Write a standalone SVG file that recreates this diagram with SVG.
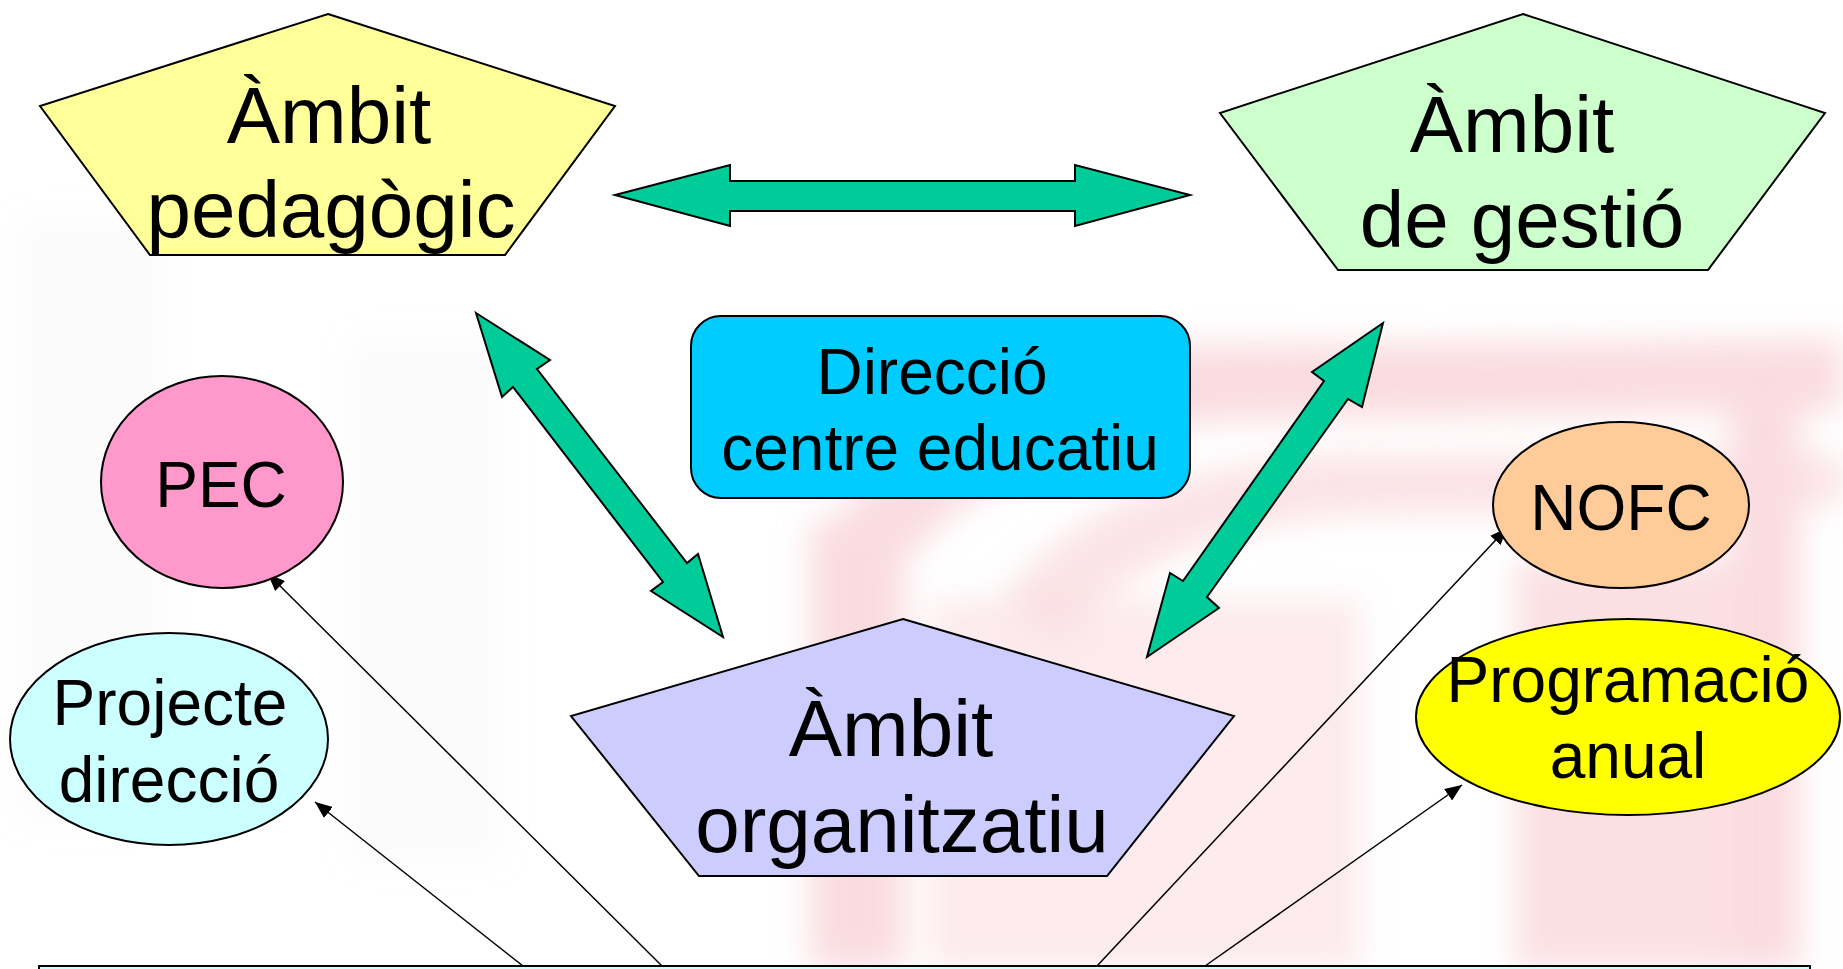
<svg xmlns="http://www.w3.org/2000/svg" width="1843" height="969" viewBox="0 0 1843 969">
<defs>
<style>
.t{font-family:"Liberation Sans",Arial,sans-serif;text-anchor:middle;fill:#000}
.big{font-size:80px}
.mid{font-size:64px}
.shape{stroke:#000;stroke-width:2}
.conn{stroke:#000;stroke-width:1.5;fill:none}
.wide{fill:#00CC99;stroke:#000;stroke-width:2;stroke-linejoin:miter}
.pk{fill:#F8CDD3}
.gr{fill:#E6E6E6}
</style>
<filter id="blur" x="-20%" y="-20%" width="140%" height="140%"><feGaussianBlur stdDeviation="16"/></filter>
<marker id="ah" markerUnits="userSpaceOnUse" markerWidth="18" markerHeight="14" refX="17" refY="7" orient="auto">
<path d="M0,0 L17,7 L0,14 Z" fill="#000"/>
</marker>
</defs>
<rect width="1843" height="969" fill="#fff"/>
<g id="watermark" filter="url(#blur)" opacity="0.7">
<rect class="gr" x="20" y="220" width="140" height="600" opacity="0.25"/>
<rect class="gr" x="350" y="340" width="150" height="520" opacity="0.25"/>
<rect class="pk" x="810" y="520" width="95" height="449"/>
<rect class="pk" x="930" y="600" width="430" height="369" opacity="0.6"/>
<rect class="pk" x="1515" y="560" width="220" height="409" opacity="0.9"/>
<rect class="pk" x="1730" y="380" width="70" height="589"/>
<path class="pk" d="M815,560 Q900,380 1200,345 L1843,340 L1843,410 L1230,420 Q960,450 880,600 Z"/>
<path class="pk" d="M1000,600 Q1100,470 1330,455 L1843,455 L1843,505 L1350,515 Q1150,530 1060,640 Z" opacity="0.8"/>
</g>
<g id="connectors">
<polygon class="wide" points="615,195 730,165 730,181 1075,181 1075,165 1190,195 1075,226 1075,211 730,211 730,226"/>
<polygon class="wide" points="476,313 550,360 537,369 687,563 698,554 723,637 651,591 663,582 513,387 502,397"/>
<polygon class="wide" points="1383,323 1362,407 1348,399 1207,597 1219,608 1147,657 1170,573 1183,581 1324,381 1312,372"/>
<line class="conn" x1="523" y1="966" x2="315" y2="802" marker-end="url(#ah)"/>
<line class="conn" x1="662" y1="966" x2="268" y2="574" marker-end="url(#ah)"/>
<line class="conn" x1="1097" y1="966" x2="1507" y2="528" marker-end="url(#ah)"/>
<line class="conn" x1="1205" y1="966" x2="1462" y2="785" marker-end="url(#ah)"/>
</g>
<g id="ambit-pedagogic">
<polygon class="shape" fill="#FFFF99" points="328,14 615,106 505,255 150,255 40,106"/>
<text class="t big" x="329" y="143">Àmbit</text>
<text class="t big" x="331" y="237">pedagògic</text>
</g>
<g id="ambit-gestio">
<polygon class="shape" fill="#CCFFCC" points="1523,14 1825,113 1708,270 1338,270 1220,113"/>
<text class="t big" x="1512" y="152">Àmbit</text>
<text class="t big" x="1522" y="247">de gestió</text>
</g>
<g id="direccio">
<rect class="shape" fill="#00CCFF" x="691" y="316" width="499" height="182" rx="30" ry="30"/>
<text class="t mid" x="932" y="394">Direcció</text>
<text class="t mid" x="940" y="470">centre educatiu</text>
</g>
<g id="ambit-organitzatiu">
<polygon class="shape" fill="#CCCCFF" points="903,619 1234,716 1107,876 699,876 571,716"/>
<text class="t big" x="891" y="756">Àmbit</text>
<text class="t big" x="902" y="852">organitzatiu</text>
</g>
<g id="pec">
<ellipse class="shape" fill="#FF99CC" cx="222" cy="482" rx="121" ry="106"/>
<text class="t mid" x="221" y="507">PEC</text>
</g>
<g id="projecte">
<ellipse class="shape" fill="#CCFFFF" cx="169" cy="739" rx="159" ry="106"/>
<text class="t mid" x="170" y="725">Projecte</text>
<text class="t mid" x="169" y="802">direcció</text>
</g>
<g id="nofc">
<ellipse class="shape" fill="#FFCC99" cx="1621" cy="505" rx="128" ry="83"/>
<text class="t mid" x="1621" y="530">NOFC</text>
</g>
<g id="programacio">
<ellipse class="shape" fill="#FFFF00" cx="1628" cy="717" rx="212" ry="98"/>
<text class="t mid" x="1628" y="702">Programació</text>
<text class="t mid" x="1628" y="778">anual</text>
</g>
<g id="bottom-box">
<rect class="shape" fill="#CCFFFF" x="39" y="966" width="1771" height="20"/>
</g>
</svg>
